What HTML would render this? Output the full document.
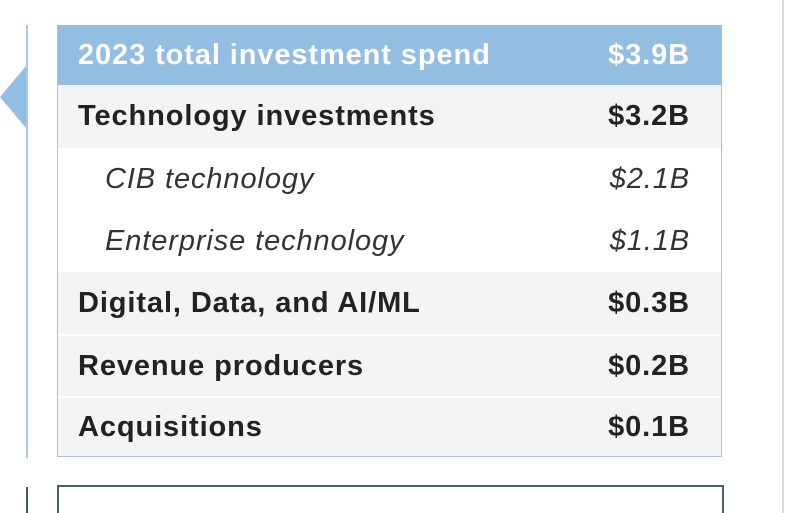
<!DOCTYPE html>
<html><head><meta charset="utf-8"><style>
html,body{margin:0;width:800px;height:513px;overflow:hidden;}
body{background:#fff;position:relative;font-family:"Liberation Sans",Arial,sans-serif;}
.vl{position:absolute;left:26px;top:25px;width:2px;height:433px;background:#a9c8e4;}
.tri{position:absolute;left:0;top:66px;width:0;height:0;border-top:31px solid transparent;border-bottom:31px solid transparent;border-right:26px solid #93bfe6;}
.tbl{position:absolute;left:57px;top:25px;width:663px;height:431px;border:1px solid #a8c4dc;border-top:none;}
.row{position:absolute;left:0;width:663px;display:flex;align-items:center;justify-content:space-between;box-sizing:border-box;padding:0 31px 0 20px;font-size:29px;letter-spacing:0.9px;color:#222;}
.hdr{background:#93bde1;color:#fff;font-weight:bold;}
.g{background:#f3f4f6;font-weight:bold;}
.w{background:#fff;font-style:italic;color:#333;}
.w .l{padding-left:27px;}
.sep{border-top:2px solid #fff;}
.rl{position:absolute;left:782px;top:0;width:2px;height:513px;background:#d9d9d9;}
.dl{position:absolute;left:26px;top:487px;width:2px;height:26px;background:#445a6b;}
.box{position:absolute;left:57px;top:485px;width:663px;height:26px;border:2px solid #4a5f70;border-bottom:none;}
</style></head><body>
<div class="vl"></div>
<div class="tri"></div>
<div class="rl"></div>
<div class="dl"></div>
<div class="tbl">
<div class="row hdr" style="top:0;height:60px"><span>2023 total investment spend</span><span>$3.9B</span></div>
<div class="row g" style="top:60px;height:63px"><span>Technology investments</span><span>$3.2B</span></div>
<div class="row w" style="top:123px;height:63px"><span class="l">CIB technology</span><span>$2.1B</span></div>
<div class="row w" style="top:186px;height:61px"><span class="l">Enterprise technology</span><span>$1.1B</span></div>
<div class="row g" style="top:247px;height:62px"><span>Digital, Data, and AI/ML</span><span>$0.3B</span></div>
<div class="row g sep" style="top:309px;height:62px"><span>Revenue producers</span><span>$0.2B</span></div>
<div class="row g sep" style="top:371px;height:60px"><span>Acquisitions</span><span>$0.1B</span></div>
</div>
<div class="box"></div>
</body></html>
